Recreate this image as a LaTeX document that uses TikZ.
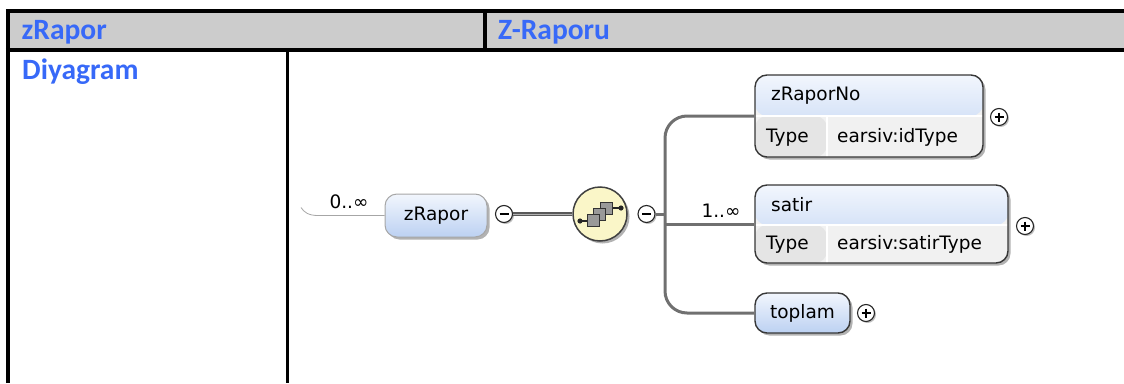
\documentclass[tikz,border=0pt]{standalone}
\usepackage{fontspec}
\setmainfont{DejaVu Sans}
\newfontfamily\hdrfont{Carlito}
\usetikzlibrary{calc,shadows}
\definecolor{hdrblue}{RGB}{55,105,248}
\definecolor{hdrgray}{RGB}{204,204,204}
\definecolor{boxtop}{RGB}{242,246,253}
\definecolor{boxbot}{RGB}{188,209,242}
\definecolor{typebg}{RGB}{241,241,241}
\definecolor{typecell}{RGB}{229,229,229}
\definecolor{seqfill}{RGB}{250,246,200}
\definecolor{linegray}{RGB}{112,112,112}
\definecolor{boxborder}{RGB}{55,55,55}
\begin{document}
\begin{tikzpicture}[x=1pt,y=-1pt,
  tableline/.style={line width=3.6pt,black},
  hdrtext/.style={text=hdrblue,font=\hdrfont\bfseries\fontsize{29.5}{33}\selectfont,inner sep=0pt,anchor=base west},
  dtext/.style={font=\fontsize{18.5}{22}\selectfont,text=black,inner sep=0pt},
  shadowed/.style={drop shadow={shadow xshift=2.5pt,shadow yshift=-2.5pt,opacity=0.3,fill=black}},
  rootelem/.style={rectangle,rounded corners=12pt,draw=black!35,line width=1pt,top color=boxtop,bottom color=boxbot,shadowed,inner sep=0pt},
  elem/.style={rectangle,rounded corners=12pt,draw=boxborder,line width=1.4pt,top color=boxtop,bottom color=boxbot,shadowed,inner sep=0pt},
  typedelem/.style={rectangle,rounded corners=12pt,draw=boxborder,line width=1.4pt,fill=typebg,shadowed,inner sep=0pt,
    path picture={
      \shade[top color=boxtop,bottom color=boxbot] (path picture bounding box.north west) rectangle ($(path picture bounding box.north east)+(0,#1)$);
      \fill[typecell] ($(path picture bounding box.north west)+(0,#1)$) rectangle ($(path picture bounding box.south west)+(72,0)$);
      \draw[white,line width=1.5pt] ($(path picture bounding box.north west)+(0,#1)$) -- ($(path picture bounding box.north east)+(0,#1)$);
      \draw[white,line width=1.5pt] ($(path picture bounding box.north west)+(72,#1)$) -- ($(path picture bounding box.south west)+(72,0)$);
    }},
  pmcirc/.style={circle,draw=black!85,line width=1.1pt,fill=white,minimum size=17pt,inner sep=0pt,
    drop shadow={shadow xshift=1.5pt,shadow yshift=-1.5pt,opacity=0.25,fill=black}},
  minusc/.style={pmcirc,path picture={\draw[line width=1.3pt,black] ($(path picture bounding box.center)+(-4.5,0)$) -- ($(path picture bounding box.center)+(4.5,0)$);}},
  plusc/.style={pmcirc,path picture={\draw[line width=1.3pt,black] ($(path picture bounding box.center)+(-4.5,0)$) -- ($(path picture bounding box.center)+(4.5,0)$);
      \draw[line width=1.3pt,black] ($(path picture bounding box.center)+(0,-4.5)$) -- ($(path picture bounding box.center)+(0,4.5)$);}},
  seqnode/.style={circle,draw=black!75,line width=1.5pt,fill=seqfill,minimum size=54pt,inner sep=0pt,shadowed},
  conn/.style={draw=linegray,line width=3pt},
  dconn/.style={draw=black!65,line width=1.3pt,double=gray!60,double distance=1pt},
  thinline/.style={draw=black!35,line width=0.8pt},
  iconsq/.style={fill=black!40,draw=black!80,line width=1pt},
  iconln/.style={draw=black!85,line width=1.3pt}
]
\useasboundingbox (0,0) rectangle (1124,383);
% ---- table ----
\fill[hdrgray] (7.7,11) rectangle (1124,50);
\draw[tableline] (7.7,383) -- (7.7,9.2);
\draw[tableline] (5.9,11) -- (1124,11);
\draw[tableline] (5.9,50) -- (1124,50);
\draw[tableline] (485,11) -- (485,50);
\draw[tableline] (287.5,50) -- (287.5,383);
\node[hdrtext] (h1) at (21.5,39) {zRapor};
\node[hdrtext] (h2) at (498,39) {Z-Raporu};
\node[hdrtext] (h3) at (22,79) {Diyagram};
% ---- diagram ----
\node[rootelem,minimum width=102pt,minimum height=43pt] (zr) at (436,215.5) {};
\node[dtext] (zrt) at (zr.center) {zRapor};
\node[dtext,anchor=base] (occ0) at (349,208) {0..∞};
\coordinate (rootstart) at (301,207.5);
\draw[thinline] (zr.west) -- (318,215.5) .. controls (308,215.5) and (304,212) .. (rootstart);
\node[minusc] (m1) at (504,214) {};
\node[seqnode] (seq) at (600,214) {};
\begin{scope}[shift={(seq.center)}]
  \draw[iconln] (-20,7) -- (-12,7);
  \fill[black!85] (-20,7) circle (2.6pt);
  \draw[iconln] (11,-6) -- (21,-6);
  \fill[black!85] (21,-6) circle (2.6pt);
  \draw[iconsq] (0,-11.5) rectangle (12,0.5);
  \draw[iconsq] (-6.5,-5.5) rectangle (5.5,6.5);
  \draw[iconsq] (-13,0.5) rectangle (-1,12.5);
\end{scope}
\node[minusc] (m2) at (646.5,214) {};
\draw[dconn] (m1.east) -- (seq.west);
\coordinate (fork) at (665,214);
% children
\node[typedelem=41,minimum width=228pt,minimum height=82pt] (zrn) at (869,116) {};
\node[dtext,anchor=west] (zrnt) at (771,96) {zRaporNo};
\node[dtext,anchor=west] (zrnk) at (766,137.5) {Type};
\node[dtext,anchor=west] (zrnv) at (837,137.5) {earsiv:idType};
\node[plusc] (p1) at (999,117) {};
\node[typedelem=40,minimum width=253pt,minimum height=78pt] (sat) at (881.5,224) {};
\node[dtext,anchor=west] (satt) at (771,205) {satir};
\node[dtext,anchor=west] (satk) at (766,244.5) {Type};
\node[dtext,anchor=west] (satv) at (837,244.5) {earsiv:satirType};
\node[plusc] (p2) at (1025,226) {};
\node[elem,minimum width=95pt,minimum height=40pt] (top) at (802.5,313) {};
\node[dtext] (topt) at (top.center) {toplam};
\node[plusc] (p3) at (866,313) {};
\node[dtext,anchor=base] (occ1) at (721,217) {1..∞};
% connectors
\draw[conn] (m2.east) -- (fork);
\draw[conn,rounded corners=22pt] (zrn.west) -| (fork) |- (top.west);
\draw[conn] (fork |- sat.west) -- (sat.west);
\end{tikzpicture}
\end{document}
